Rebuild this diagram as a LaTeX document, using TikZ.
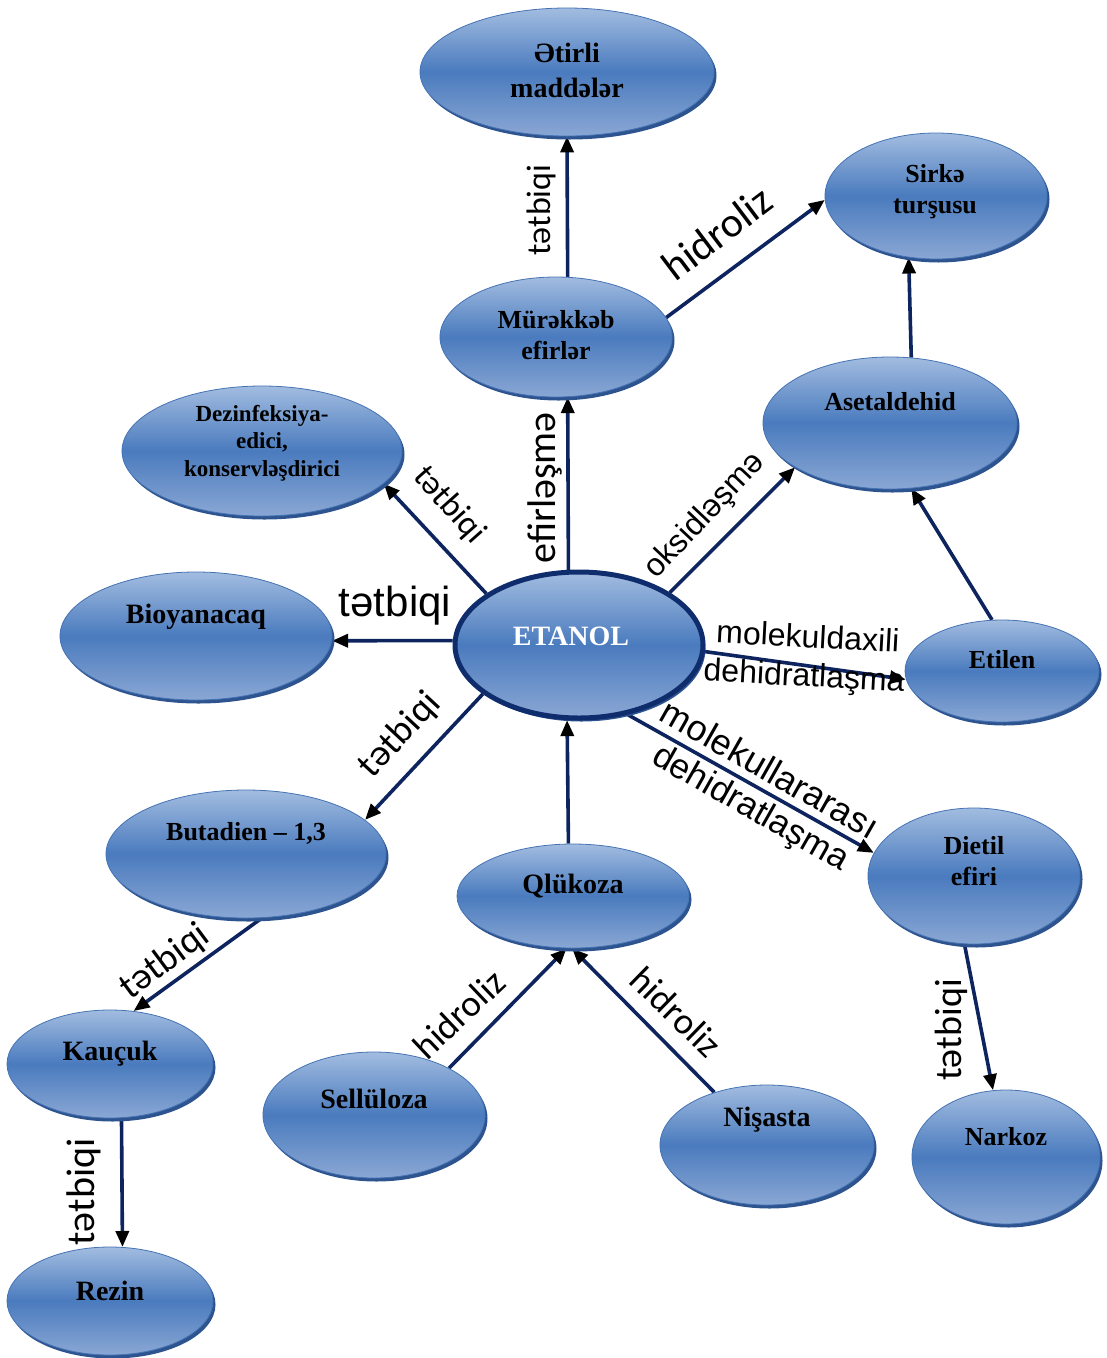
\documentclass[tikz,border=0pt]{standalone}
\usepackage{fontspec}
\setmainfont{Liberation Serif}
\newfontfamily\lblfont{Carlito}
\newfontfamily\arialfont{Liberation Sans}
\usetikzlibrary{shapes.geometric,arrows.meta,shadows,backgrounds}

\definecolor{bubtop}{HTML}{A2BCE0}
\definecolor{bubmid}{HTML}{4A7BBE}
\definecolor{bubbot}{HTML}{8AA7D4}
\definecolor{bubedge}{HTML}{4573B3}
\definecolor{bubshadow}{HTML}{2E5490}
\definecolor{etanolrim}{HTML}{0F2D6C}
\definecolor{linkcol}{HTML}{0D245E}

\newcommand{\lblsize}[1]{\lblfont\fontsize{#1}{#1}\selectfont}
\newcommand{\arlsize}[1]{\arialfont\fontsize{#1}{#1}\selectfont}

\begin{document}
\begin{tikzpicture}[x=1pt,y=-1pt,
  bubble/.style={ellipse, inner sep=0pt, top color=bubtop, bottom color=bubbot,
    middle color=bubmid, draw=bubedge, line width=0.8pt,
    general shadow={fill=bubshadow, shadow xshift=2.5pt, shadow yshift=-3.5pt}},
  ntext/.style={font=\bfseries\fontsize{26}{31}\selectfont, align=center, inner sep=0pt},
  link/.style={draw=linkcol, line width=3.6pt,
    -{Triangle[length=16pt,width=13pt,color=black]}},
  tlab/.style={font=\lblsize{34}, inner sep=0pt},
  alab/.style={font=\arlsize{32}, inner sep=0pt},
]
\useasboundingbox (0,0) rectangle (1107,1358);

% ---- ellipses ----
\node[bubble, minimum width=294pt, minimum height=128pt] (atirli)   at (567,72)   {};
\node[bubble, minimum width=222pt, minimum height=126pt] (sirke)    at (936,196)  {};
\node[bubble, minimum width=232pt, minimum height=120pt] (murekkeb) at (556,337)  {};
\node[bubble, minimum width=254pt, minimum height=132pt] (asetal)   at (890,423)  {};
\node[bubble, minimum width=280pt, minimum height=130pt] (dezinf)   at (262,451)  {};
\node[bubble, minimum width=272pt, minimum height=128pt] (bioyan)   at (196,636)  {};
\node[bubble, minimum width=248pt, minimum height=146pt, draw=etanolrim, line width=5pt] (etanol) at (579,645) {};
\node[bubble, minimum width=194pt, minimum height=102pt] (etilen)   at (1002,671) {};
\node[bubble, minimum width=280pt, minimum height=128pt] (butad)    at (246,854)  {};
\node[bubble, minimum width=232pt, minimum height=104pt] (qlukoza)  at (573,896)  {};
\node[bubble, minimum width=212pt, minimum height=136pt] (dietil)   at (974,876)  {};
\node[bubble, minimum width=206pt, minimum height=108pt] (kaucuk)   at (110,1064) {};
\node[bubble, minimum width=222pt, minimum height=126pt] (sellul)   at (374,1115) {};
\node[bubble, minimum width=214pt, minimum height=120pt] (nisasta)  at (767,1145) {};
\node[bubble, minimum width=188pt, minimum height=134pt] (narkoz)   at (1006,1157){};
\node[bubble, minimum width=206pt, minimum height=108pt] (rezin)    at (110,1301) {};

% ---- ellipse texts ----
\node[ntext, font=\bfseries\fontsize{28}{35}\selectfont] (atirli-t) at (567,70) {Ətirli\\maddələr};
\node[ntext] (sirke-t)    at (935,192)  {Sirkə\\turşusu};
\node[ntext] (murekkeb-t) at (556,335)  {Mürəkkəb\\efirlər};
\node[ntext] (asetal-t)   at (890,402)  {Asetaldehid};
\node[ntext, font=\bfseries\fontsize{23}{27.5}\selectfont] (dezinf-t) at (262,443) {Dezinfeksiya-\\edici,\\konservləşdirici};
\node[ntext, font=\bfseries\fontsize{28}{31}\selectfont] (bioyan-t) at (196,617) {Bioyanacaq};
\node[ntext, font=\bfseries\fontsize{28}{31}\selectfont, text=white] (etanol-t) at (571,636) {ETANOL};
\node[ntext] (etilen-t)   at (1002,660) {Etilen};
\node[ntext] (butad-t)    at (246,833)  {Butadien – 1,3};
\node[ntext, font=\bfseries\fontsize{28}{31}\selectfont] (qlukoza-t) at (573,886) {Qlükoza};
\node[ntext] (dietil-t)   at (974,861)  {Dietil\\efiri};
\node[ntext, font=\bfseries\fontsize{28}{31}\selectfont] (kaucuk-t) at (110,1054) {Kauçuk};
\node[ntext, font=\bfseries\fontsize{28}{31}\selectfont] (sellul-t) at (374,1099) {Sellüloza};
\node[ntext, font=\bfseries\fontsize{28}{31}\selectfont] (nisasta-t) at (767,1120) {Nişasta};
\node[ntext] (narkoz-t)   at (1006,1137) {Narkoz};
\node[ntext, font=\bfseries\fontsize{28}{31}\selectfont] (rezin-t) at (110,1291) {Rezin};

% ---- connectors and their labels, kept behind the ellipses ----
\begin{scope}[on background layer]
  \draw[link] (murekkeb.79)   -- (atirli.270);
  \draw[link] (murekkeb.10)   -- (sirke.182);
  \draw[link] (asetal.72)     -- (sirke.246);
  \draw[link] (etanol.98.6)   -- (murekkeb.281.5);
  \draw[link] (etanol.30)     -- (asetal.205);
  \draw[link] (etilen.101)    -- (asetal.288);
  \draw[link] (etanol.151)    -- (dezinf.345);
  \draw[link] (etanol.178)    -- (bioyan.358);
  \draw[link] (etanol.357)    -- (etilen.185);
  \draw[link] (etanol.305)    -- (dietil.167);
  \draw[link] (etanol.207)    -- (butad.16);
  \draw[link] (qlukoza.95.6)  -- (etanol.261.4);
  \draw[link] (butad.284.5)   -- (kaucuk.66);
  \draw[link] (kaucuk.282.5)  -- (rezin.77.2);
  \draw[link] (sellul.32.7)   -- (qlukoza.263);
  \draw[link] (nisasta.135.4) -- (qlukoza.269);
  \draw[link] (dietil.262.6)  -- (narkoz.101.5);

  \node[tlab, rotate=90]    (l1)  at (541,210)  {tətbiqi};
  \node[tlab, rotate=37, font=\lblsize{42}] (l2) at (717,233) {hidroliz};
  \node[tlab, rotate=90, font=\lblsize{40}] (l3) at (545,488) {efirləşmə};
  \node[alab, rotate=46.7, font=\arlsize{32}] (l4) at (705,516) {oksidləşmə};
  \node[tlab, rotate=-48.3] (l5)  at (449,505)  {tətbiqi};
  \node[alab, font=\arlsize{42}] (l6) at (395,606) {tətbiqi};
  \node[alab, rotate=-3]    (l7)  at (808,636)  {molekuldaxili};
  \node[alab, rotate=-3]    (l8)  at (804,678)  {dehidratlaşma};
  \node[alab, rotate=-29.6, font=\arlsize{36}] (l9) at (770,769) {molekullararası};
  \node[alab, rotate=-29.6, font=\arlsize{35}] (l10) at (750,809) {dehidratlaşma};
  \node[tlab, rotate=47.1, font=\lblsize{38}]  (l11) at (400,735)  {tətbiqi};
  \node[tlab, rotate=36.7, font=\lblsize{38}]  (l12) at (165,962)  {tətbiqi};
  \node[tlab, rotate=90, font=\lblsize{40}]    (l13) at (84,1192)  {tətbiqi};
  \node[tlab, rotate=43.4, font=\lblsize{37}]  (l14) at (459,1014) {hidroliz};
  \node[tlab, rotate=-44.3, font=\lblsize{37}] (l15) at (676,1012) {hidroliz};
  \node[tlab, rotate=90, font=\lblsize{38}]    (l16) at (951,1030) {tətbiqi};
\end{scope}
\end{tikzpicture}
\end{document}
